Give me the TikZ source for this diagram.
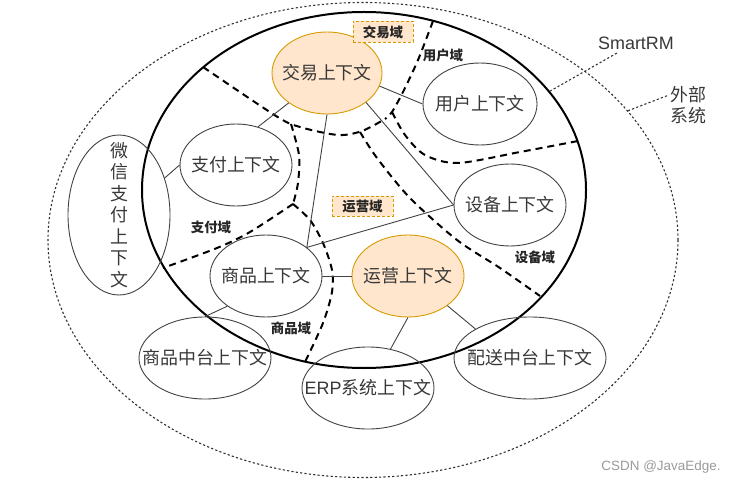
\documentclass[tikz,border=0pt]{standalone}
\usepackage{fontspec}
\setmainfont{Noto Sans CJK SC}
\newfontfamily\lat{Liberation Sans}
\usetikzlibrary{shapes.geometric}
\definecolor{ofill}{HTML}{FFE6CC}
\definecolor{ostroke}{HTML}{D79B00}
\definecolor{txtc}{HTML}{383838}
\definecolor{edgec}{HTML}{424242}
\definecolor{extc}{HTML}{333333}
\definecolor{wmark}{HTML}{9A9A9A}
\tikzset{
  ctx/.style={ellipse, draw=edgec, line width=0.9bp, inner sep=0pt},
  core/.style={ctx, draw=ostroke, fill=ofill},
  ctxtxt/.style={text=txtc, font=\fontsize{18}{21.5}\selectfont, inner sep=0pt, align=center},
  conn/.style={draw=edgec, line width=0.9bp},
  bound/.style={line width=2bp, dash pattern=on 7bp off 5bp},
  domlbl/.style={font=\bfseries\fontsize{13.5}{16}\selectfont, text=black!85, inner sep=0pt},
  dombox/.style={domlbl, draw=ostroke, fill=ofill, line width=0.9bp, dash pattern=on 3bp off 2bp, minimum width=60bp, minimum height=21bp},
  ext/.style={draw=extc, line width=1.1bp, dash pattern=on 2.2bp off 2.2bp},
  plain/.style={text=txtc, font=\fontsize{18}{21}\selectfont, inner sep=0pt, align=center}
}
\begin{document}
\begin{tikzpicture}[x=1bp,y=-1bp]
\useasboundingbox (0,0) rectangle (736,485);
% big ellipses
\node[ellipse, ext, minimum width=630bp, minimum height=475bp] (outer) at (363,240) {};
\node[ellipse, draw=black, line width=2bp, minimum width=444bp, minimum height=356bp] (inner) at (364,190) {};

% domain boundaries
\draw[bound] plot[smooth, tension=0.5] coordinates {(203,67) (276,116) (300,127) (338,135) (362,131) (385,119)};
\draw[bound] plot[smooth, tension=0.5] coordinates {(291,124) (299,155) (298,183) (293,204)};
\draw[bound] plot[smooth, tension=0.5] coordinates {(293,204) (310,220) (323,243) (332,270) (332,292) (323,323) (305,362)};
\draw[bound] plot[smooth, tension=0.5] coordinates {(293,204) (250,232) (217,248) (163,268)};
\draw[bound] plot[smooth, tension=0.5] coordinates {(360,132) (377,158) (410,198) (457,240) (500,268) (540,296)};
\draw[bound] plot[smooth, tension=0.5] coordinates {(433,21) (418,60) (403,92) (392,112) (385,119)};
\draw[bound] plot[smooth, tension=0.5] coordinates {(392,112) (405,135) (425,155) (458,163) (520,152) (578,141)};

% context nodes
\node[core, minimum width=110bp, minimum height=82bp, label={[ctxtxt]center:交易上下文}] (jy) at (327,73) {};
\node[core, minimum width=112bp, minimum height=82bp, label={[ctxtxt]center:运营上下文}] (yy) at (408,276) {};
\node[ctx, minimum width=114bp, minimum height=82bp, label={[ctxtxt]center:用户上下文}] (yh) at (480,104) {};
\node[ctx, minimum width=112bp, minimum height=82bp, label={[ctxtxt]center:支付上下文}] (zf) at (236,165) {};
\node[ctx, minimum width=112bp, minimum height=82bp, label={[ctxtxt]center:设备上下文}] (sb) at (510,205) {};
\node[ctx, minimum width=112bp, minimum height=82bp, label={[ctxtxt]center:商品上下文}] (sp) at (266,276) {};
\node[ctx, minimum width=102bp, minimum height=160bp, label={[ctxtxt]center:微\\信\\支\\付\\上\\下\\文}] (wx) at (119,215) {};
\node[ctx, minimum width=132bp, minimum height=82bp, label={[ctxtxt]center:商品中台上下文}] (spz) at (205,358) {};
\node[ctx, minimum width=132bp, minimum height=82bp, label={[ctxtxt]center:{\lat ERP}系统上下文}] (erp) at (368,388) {};
\node[ctx, minimum width=152bp, minimum height=82bp, label={[ctxtxt]center:配送中台上下文}] (ps) at (530,358) {};

% connectors
\draw[conn] (jy.218) -- (zf.60);
\draw[conn] (jy.346) -- (yh.180);
\draw[conn] (jy.323) -- (sb.180);
\draw[conn] (jy.270) -- (sp.35);
\draw[conn] (sp.35) -- (sb.180);
\draw[conn] (sp.0) -- (yy.180);
\draw[conn] (wx.39) -- (zf.180);
\draw[conn] (sp.218) -- (spz.90);
\draw[conn] (yy.270) -- (erp.60);
\draw[conn] (yy.323) -- (ps.152);

% domain labels
\node[dombox] (jyd) at (383,32) {交易域};
\node[dombox, minimum width=61bp, minimum height=20bp] (yyd) at (362.5,206) {运营域};
\node[domlbl] (yhd) at (443,55) {用户域};
\node[domlbl] (zfd) at (211,227) {支付域};
\node[domlbl] (sbd) at (535,257) {设备域};
\node[domlbl] (spd) at (291,328) {商品域};

% external labels
\node[plain, font=\lat\fontsize{18}{21}\selectfont] (smart) at (636,43) {SmartRM};
\node[plain] (extsys) at (688,105) {外部\\系统};
\coordinate (smartend) at (617,53);
\coordinate (extend) at (669,95);
\draw[ext] (inner.28) -- (smartend);
\draw[ext] (outer.26) -- (extend);

\node[text=wmark, font=\lat\fontsize{13.5}{16}\selectfont, inner sep=0pt] (wm) at (661,467) {CSDN @JavaEdge.};
\end{tikzpicture}
\end{document}
